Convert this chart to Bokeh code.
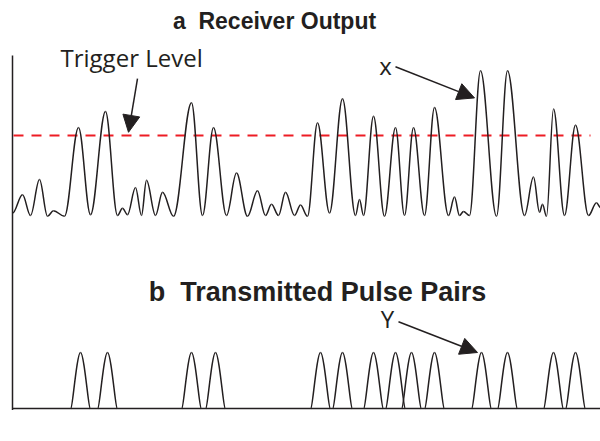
from bokeh.plotting import figure
from bokeh.models import Range1d, Label, Arrow, NormalHead
from bokeh.embed import file_html
from bokeh.resources import INLINE
import numpy as np

# ---- Data ----
# a  Receiver output: alternating extrema (time, amplitude); trigger level = 1.0
rx_time = [12, 22, 30, 39, 47, 53, 64, 78, 90, 105, 117, 122, 127, 135, 141, 146,
           155, 162, 173, 191, 202, 213, 226, 236, 247, 257, 265, 271, 278, 285,
           294, 300, 307, 317, 329, 342, 355, 359, 363, 373, 384, 395, 404, 413,
           424, 434, 448, 454, 459, 463, 469, 480, 496, 507, 524, 533, 539, 542,
           546, 553, 564, 575, 588, 596, 600]
rx_amp = [0.03, 0.26, 0.0, 0.45, -0.01, 0.06, -0.01, 1.10, 0.01, 1.30, 0.0, 0.09,
          0.01, 0.35, 0.0, 0.44, 0.0, 0.29, -0.01, 1.41, 0.0, 1.10, 0.0, 0.53,
          -0.01, 0.31, 0.0, 0.14, 0.0, 0.29, 0.0, 0.13, -0.01, 1.16, 0.03, 1.46,
          0.0, 0.20, 0.0, 1.24, -0.01, 1.10, 0.0, 1.10, 0.0, 1.35, 0.0, 0.23, 0.0,
          0.05, 0.0, 1.81, -0.01, 1.81, 0.0, 0.48, 0.04, 0.14, -0.01, 1.33, 0.0,
          1.13, 0.0, 0.16, 0.10]
trigger_level = 1.0
trigger_time = [13, 590]

# b  Transmitted pulse pairs: pulse centres (time), unit amplitude
tx_pulse_time = [80, 107, 191, 215, 320, 342, 373, 395, 411, 434, 481, 507, 553, 575]
tx_pulse_amp = 1.0
tx_time_span = [12, 600]

INK = "#231f20"
RED = "#ed1c24"

p = figure(width=600, height=441, x_range=Range1d(0, 600),
           y_range=Range1d(-2.825, 2.6875),
           x_axis_location=None, y_axis_location=None,
           output_backend="svg", toolbar_location=None, min_border=0)
p.grid.visible = False
p.outline_line_color = None
p.background_fill_color = "white"
p.border_fill_color = "white"
p.extra_y_ranges = {"tx": Range1d(-0.5893, 7.2857)}

# left vertical line of the diagram
p.segment(x0=[12], y0=[2.0], x1=[12], y1=[-2.43], line_color=INK, line_width=1.5)

# trigger level
p.line(x=trigger_time, y=[trigger_level] * 2, line_color=RED, line_width=2,
       line_dash="10 8")

# receiver output curve (smooth through extrema)
t = np.array(rx_time, dtype=float)
a = np.array(rx_amp, dtype=float)
dt = t[1:] - t[:-1]
k = 0.36
p.bezier(x0=t[:-1], y0=a[:-1], x1=t[1:], y1=a[1:],
         cx0=t[:-1] + k * dt, cy0=a[:-1], cx1=t[1:] - k * dt, cy1=a[1:],
         line_color=INK, line_width=1.5)

# transmitted pulses
c = np.array(tx_pulse_time, dtype=float)
hw = 9.5
kb, kt = 0.15, 0.38
p.segment(x0=[tx_time_span[0]], y0=[0], x1=[tx_time_span[1]], y1=[0],
          line_color=INK, line_width=1.5, y_range_name="tx")
for side in (-1, 1):
    xs = c + side * hw
    p.bezier(x0=xs, y0=np.zeros_like(c), x1=c, y1=np.full_like(c, tx_pulse_amp),
             cx0=xs - side * kb * hw, cy0=np.zeros_like(c),
             cx1=c + side * kt * hw, cy1=np.full_like(c, tx_pulse_amp),
             line_color=INK, line_width=1.5, y_range_name="tx")

# texts
p.add_layout(Label(x=274, y=2.4375, text="a\u00a0 Receiver Output",
                   text_font="Liberation Sans", text_font_style="bold",
                   text_font_size="23px", text_color=INK,
                   text_align="center", text_baseline="middle"))
p.add_layout(Label(x=317, y=2.089, y_range_name="tx",
                   text="b\u00a0 Transmitted Pulse Pairs",
                   text_font="Liberation Sans", text_font_style="bold",
                   text_font_size="27px", text_color=INK,
                   text_align="center", text_baseline="middle"))
p.add_layout(Label(x=60, y=1.975, text="Trigger Level", text_font="Open Sans",
                   text_font_size="24px", text_color=INK,
                   text_align="left", text_baseline="middle"))
p.add_layout(Label(x=385, y=1.875, text="x", text_font="Open Sans",
                   text_font_size="24px", text_color=INK,
                   text_align="center", text_baseline="middle"))
p.add_layout(Label(x=387, y=1.607, y_range_name="tx", text="Y",
                   text_font="Open Sans", text_font_size="24px", text_color=INK,
                   text_align="center", text_baseline="middle"))

# arrows
def head():
    return NormalHead(size=17, fill_color=INK, line_color=INK, line_width=1)

p.add_layout(Arrow(end=head(), x_start=137, y_start=1.71, x_end=128, y_end=1.04,
                   line_color=INK, line_width=1.5))
p.add_layout(Arrow(end=head(), x_start=395, y_start=1.86, x_end=474, y_end=1.47,
                   line_color=INK, line_width=1.5))
p.add_layout(Arrow(end=head(), x_start=398, y_start=1.55, x_end=477, y_end=1.0,
                   y_range_name="tx", line_color=INK, line_width=1.5))

open("out.html", "w").write(file_html(p, INLINE))
